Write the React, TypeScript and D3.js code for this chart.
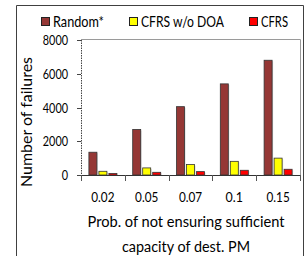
import * as d3 from "d3";

const categories = ["0.02", "0.05", "0.07", "0.1", "0.15"];
const series = ["Random*", "CFRS w/o DOA", "CFRS"];
const randomValues = [1350, 2700, 4050, 5400, 6800];
const noDoaValues = [220, 420, 620, 810, 1000];
const cfrsValues = [90, 160, 200, 280, 340];
const yTicks = [0, 2000, 4000, 6000, 8000];

const colors = ["#953735", "#FFFF00", "#FF0000"];
const font = "Lato, 'Open Sans', sans-serif";

// measured widths of the Calibri-ish texts in the reference
const legendWidths = [51, 83, 27];

export default function App() {
  const width = 305;
  const height = 256;
  const plot = { left: 81, right: 300, top: 40, bottom: 175 };

  const x = d3.scaleBand(categories, [plot.left, plot.right]);
  const y = d3.scaleLinear([0, 8000], [plot.bottom, plot.top]);
  const inner = d3.scaleBand(series, [0, 28]).paddingInner(0.2);
  const values = [randomValues, noDoaValues, cfrsValues];

  // legend positions (x of swatch)
  const legendX = [41, 129, 249];

  return (
    <svg
      width={width}
      height={height}
      style={{ position: "absolute", left: 0, top: 0, fontFamily: font }}
    >
      <rect width={width} height={height} fill="#fff" />
      {/* outer frame */}
      <path d="M16.5,262 V5.5 H303.5 V262" fill="none" stroke="#404040" strokeWidth={1} />

      {/* plot frame */}
      <path
        d={`M${plot.left},${plot.top - 0.5} H${plot.right + 0.5} V${plot.bottom}`}
        fill="none"
        stroke="#9a9a9a"
        strokeWidth={1}
      />

      {/* legend */}
      {series.map((s, i) => (
        <g key={s} transform={`translate(${legendX[i]},17)`}>
          <rect x={0.5} y={0.5} width={8} height={8} fill={colors[i]} stroke="#222" strokeWidth={1} />
          <text
            x={12}
            y={10}
            fontSize={15}
            fill="#000"
            textLength={legendWidths[i]}
            lengthAdjust="spacingAndGlyphs"
          >
            {s}
          </text>
        </g>
      ))}

      {/* bars */}
      {values.map((vals, si) =>
        vals.map((v, ci) => {
          const bx = (x(categories[ci]) ?? 0) + (x.bandwidth() - 28) / 2 + (inner(series[si]) ?? 0);
          const by = y(v);
          return (
            <g key={`${si}-${ci}`}>
              <rect
                x={bx + 1}
                y={by + 1}
                width={inner.bandwidth()}
                height={y(0) - by}
                fill="#bbb"
                opacity={0.6}
              />
              <rect
                x={bx}
                y={by}
                width={inner.bandwidth()}
                height={y(0) - by}
                fill={colors[si]}
                stroke="#333"
                strokeWidth={0.8}
              />
            </g>
          );
        }),
      )}

      {/* y axis */}
      <line
        x1={plot.left + 0.5}
        x2={plot.left + 0.5}
        y1={plot.top}
        y2={plot.bottom}
        stroke="#444"
        strokeDasharray="1.5,1"
      />
      {yTicks.map((t) => (
        <g key={t} transform={`translate(0,${Math.round(y(t)) + 0.5})`}>
          <line x1={plot.left - 4} x2={plot.left} stroke="#444" />
          <text
            x={plot.left - 13}
            y={4.5}
            fontSize={13}
            textAnchor="end"
            fill="#000"
            textLength={String(t).length * 6.3}
            lengthAdjust="spacingAndGlyphs"
          >
            {t}
          </text>
        </g>
      ))}

      {/* x axis */}
      <line x1={plot.left} x2={plot.right + 1} y1={plot.bottom + 0.5} y2={plot.bottom + 0.5} stroke="#333" />
      {[...categories.map((c) => x(c) ?? 0), plot.right].map((tx, i) => (
        <line
          key={i}
          x1={Math.round(tx) + 0.5}
          x2={Math.round(tx) + 0.5}
          y1={plot.bottom}
          y2={plot.bottom + 6}
          stroke="#555"
        />
      ))}
      {categories.map((c) => (
        <text
          key={c}
          x={(x(c) ?? 0) + x.bandwidth() / 2}
          y={202}
          fontSize={13}
          textAnchor="middle"
          fill="#000"
          textLength={c.length * 5.8}
          lengthAdjust="spacingAndGlyphs"
        >
          {c}
        </text>
      ))}

      {/* axis titles */}
      <text
        x={186}
        y={227}
        fontSize={15.5}
        textAnchor="middle"
        fill="#000"
        textLength={197}
        lengthAdjust="spacingAndGlyphs"
      >
        Prob. of not ensuring sufficient
      </text>
      <text
        x={186}
        y={252}
        fontSize={15.5}
        textAnchor="middle"
        fill="#000"
        textLength={128}
        lengthAdjust="spacingAndGlyphs"
      >
        capacity of dest. PM
      </text>
      <text
        transform={`translate(32,122) rotate(-90)`}
        fontSize={15.5}
        textAnchor="middle"
        fill="#000"
        textLength={130}
        lengthAdjust="spacingAndGlyphs"
      >
        Number of failures
      </text>
    </svg>
  );
}
